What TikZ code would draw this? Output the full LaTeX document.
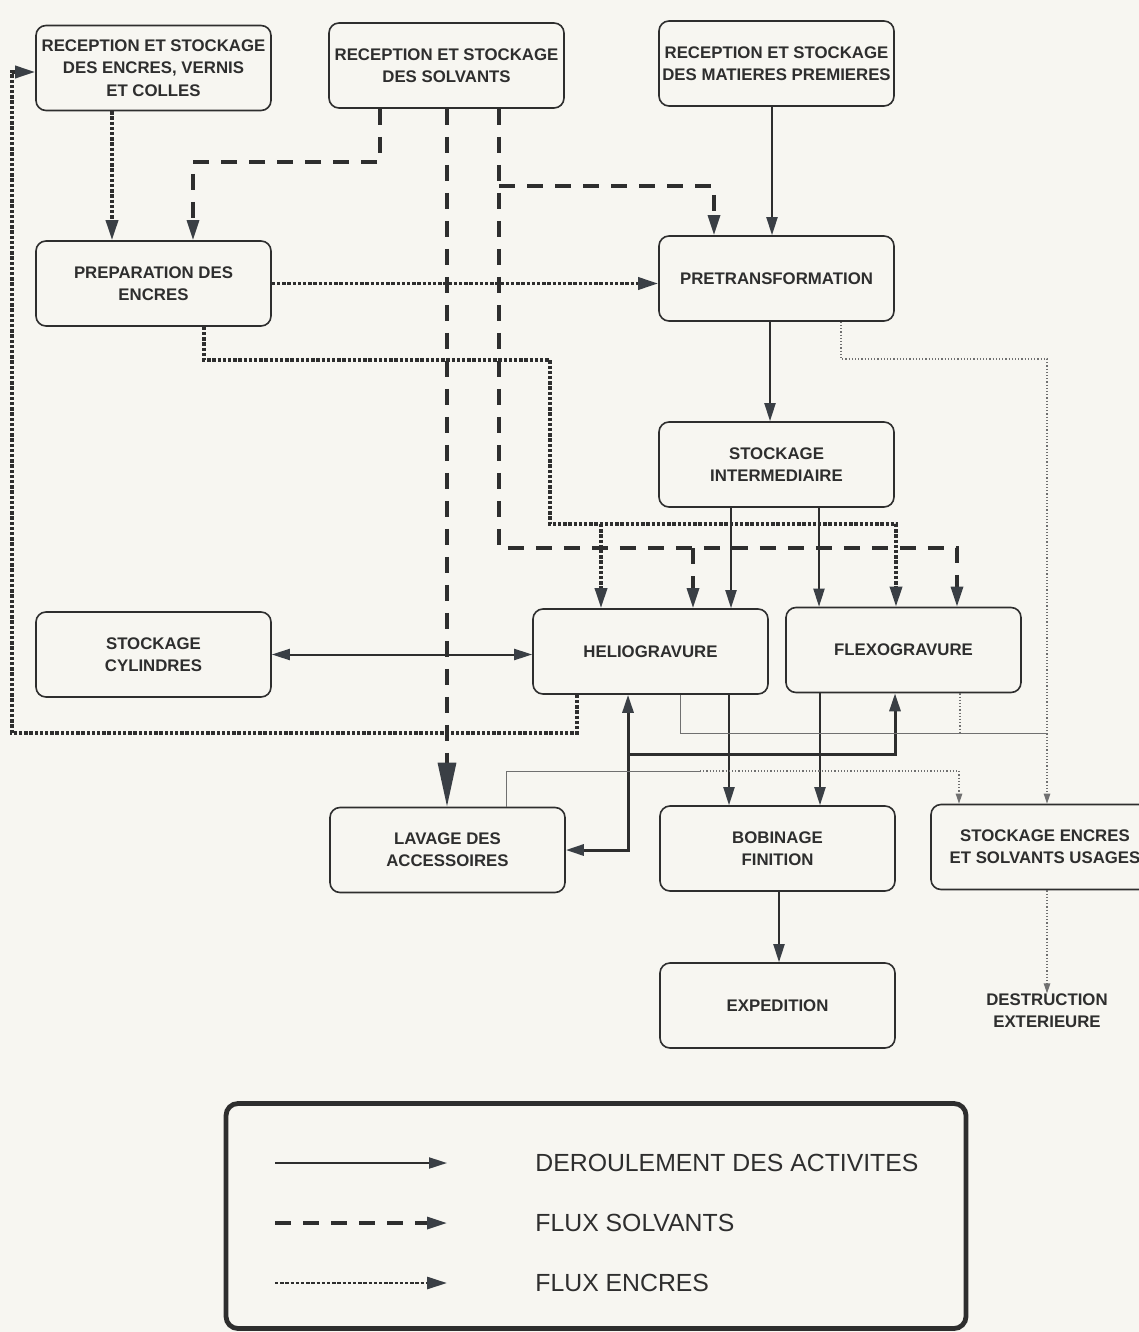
\documentclass[tikz,border=0pt]{standalone}
\usepackage{fontspec}
\setmainfont{Liberation Sans}
\usetikzlibrary{arrows.meta,calc}
\definecolor{ln}{HTML}{2E2E2E}
\definecolor{tipc}{HTML}{3A3F45}
\definecolor{paper}{HTML}{F7F6F1}
\definecolor{wastec}{HTML}{707070}
\begin{document}
\begin{tikzpicture}[x=0.5pt,y=-0.5pt,
  box/.style={draw=ln, line width=0.8pt, rounded corners=5pt, minimum width=117.5pt,
    minimum height=42.5pt, align=center, inner sep=0pt, text=ln,
    font=\bfseries\fontsize{8.4}{11.2}\selectfont},
  plain/.style={align=center, inner sep=0pt, text=ln, font=\bfseries\fontsize{8.4}{11.2}\selectfont},
  act/.style={draw=ln, line width=1pt, -{Triangle[length=9pt,width=5.5pt,color=tipc]}},
  actthick/.style={draw=ln, line width=1.5pt, -{Triangle[length=9pt,width=5.5pt,color=tipc]}},
  solv/.style={draw=ln, line width=1.6pt, dash pattern=on 8pt off 6pt, -{Triangle[length=10pt,width=6pt,color=tipc]}},
  ink/.style={draw=ln, line width=1.7pt, dash pattern=on 1.7pt off 0.9pt, -{Triangle[length=10pt,width=6pt,color=tipc]}},
  waste/.style={draw=wastec, line width=0.5pt},
  wastedot/.style={draw=wastec, line width=0.6pt, densely dotted},
  wtip/.style={-{Triangle[length=5pt,width=3.2pt,color=wastec]}},
  legtxt/.style={anchor=west, inner sep=0pt, text=ln, font=\fontsize{12.4}{14}\selectfont}
]
\fill[paper] (0,0) rectangle (1139,1332);
\useasboundingbox (0,0) rectangle (1139,1332);

% boxes
\node[box] (enc) at (153.5,68) {RECEPTION ET STOCKAGE\\DES ENCRES, VERNIS\\ET COLLES};
\node[box] (sol) at (446.5,65.5) {RECEPTION ET STOCKAGE\\DES SOLVANTS};
\node[box] (mat) at (776.5,63.5) {RECEPTION ET STOCKAGE\\DES MATIERES PREMIERES};
\node[box] (prep) at (153.5,283.5) {PREPARATION DES\\ENCRES};
\node[box] (pre) at (776.5,278.5) {PRETRANSFORMATION};
\node[box] (si) at (776.5,464.5) {STOCKAGE\\INTERMEDIAIRE};
\node[box] (cyl) at (153.5,654.5) {STOCKAGE\\CYLINDRES};
\node[box] (helio) at (650.5,651.5) {HELIOGRAVURE};
\node[box] (flexo) at (903.5,650) {FLEXOGRAVURE};
\node[box] (lav) at (447.5,850) {LAVAGE DES\\ACCESSOIRES};
\node[box] (bob) at (777.5,848.5) {BOBINAGE\\FINITION};
\node[box, minimum width=114pt] (usg) at (1045,847) {STOCKAGE ENCRES\\ET SOLVANTS USAGES};
\node[box] (exp) at (777.5,1005.5) {EXPEDITION};
\node[plain] (dest) at (1047,1011) {DESTRUCTION\\EXTERIEURE};

% activity flow
\draw[act] (mat.south -| 772,0) -- (pre.north -| 772,0);
\draw[act] (pre.south -| 770,0) -- (si.north -| 770,0);
\draw[act] (si.south -| 731,0) -- (helio.north -| 731,0);
\draw[act] (si.south -| 819,0) -- (flexo.north -| 819,0);
\draw[act] (helio.south -| 729,0) -- (bob.north -| 729,0);
\draw[act] (flexo.south -| 820,0) -- (bob.north -| 820,0);
\draw[act] (bob.south -| 779,0) -- (exp.north -| 779,0);
\draw[act, {Triangle[length=9pt,width=5.5pt,color=tipc]}-{Triangle[length=9pt,width=5.5pt,color=tipc]}]
  (cyl.east) -- (cyl.east -| helio.west);

% washing loop
\coordinate (j) at (628,754);
\draw[actthick] (j) -- (helio.south -| j);
\draw[actthick] (j) -- (895,754) -- (flexo.south -| 895,0);
\draw[actthick] (j) |- (lav.east);

% waste flows
\draw[waste] (helio.south -| 680,0) -- (680,733) -- (1047,733);
\draw[wastedot] (flexo.south -| 960,0) -- (960,733);
\draw[wastedot, wtip] (pre.south -| 841,0) -- (841,359) -- (1047,359) -- (usg.north -| 1047,0);
\draw[waste] (lav.north -| 506,0) -- (506,771) -- (700,771);
\draw[wastedot, wtip] (700,771) -- (959,771) -- (usg.north -| 959,0);
\draw[wastedot, wtip] (usg.south -| 1047,0) -- (dest.north -| 1047,0);

% solvent flows
\draw[solv] (sol.south -| 380,0) -- (380,162) -- (193,162) -- (prep.north -| 193,0);
\draw[solv, -{Triangle[length=22pt,width=9pt,color=tipc]}] (sol.south -| 447,0) -- (lav.north -| 447,0);
\draw[solv] (sol.south -| 499,0) -- (499,548) -- (957,548) -- (flexo.north -| 957,0);
\draw[solv] (693,548) -- (helio.north -| 693,0);
\draw[solv] (499,186) -- (714,186) -- (pre.north -| 714,0);

% ink flows
\draw[ink] (enc.south -| 112,0) -- (prep.north -| 112,0);
\draw[ink] (prep.east) -- (prep.east -| pre.west);
\draw[ink] (prep.south -| 204,0) -- (204,360) -- (550,360) -- (550,524) -- (896,524) -- (flexo.north -| 896,0);
\draw[ink] (601,524) -- (helio.north -| 601,0);
\draw[ink] (helio.south -| 577,0) -- (577,733) -- (12,733) -- (12,72) -- (enc.west |- 0,72);

% legend
\node[draw=ln, line width=2.4pt, rounded corners=6pt, minimum width=370pt, minimum height=112.5pt, inner sep=0pt] (leg) at (596,1216) {};
\node[legtxt] (l1) at (535,1163) {DEROULEMENT DES ACTIVITES};
\node[legtxt] (l2) at (535,1223) {FLUX SOLVANTS};
\node[legtxt] (l3) at (535,1283) {FLUX ENCRES};
\coordinate (a1) at (275,1163); \coordinate (b1) at (447,1163);
\coordinate (a2) at (275,1223); \coordinate (b2) at (447,1223);
\coordinate (a3) at (275,1283); \coordinate (b3) at (447,1283);
\draw[act] (a1) -- (b1);
\draw[solv] (a2) -- (b2);
\draw[ink, line width=1.4pt] (a3) -- (b3);
\end{tikzpicture}
\end{document}
